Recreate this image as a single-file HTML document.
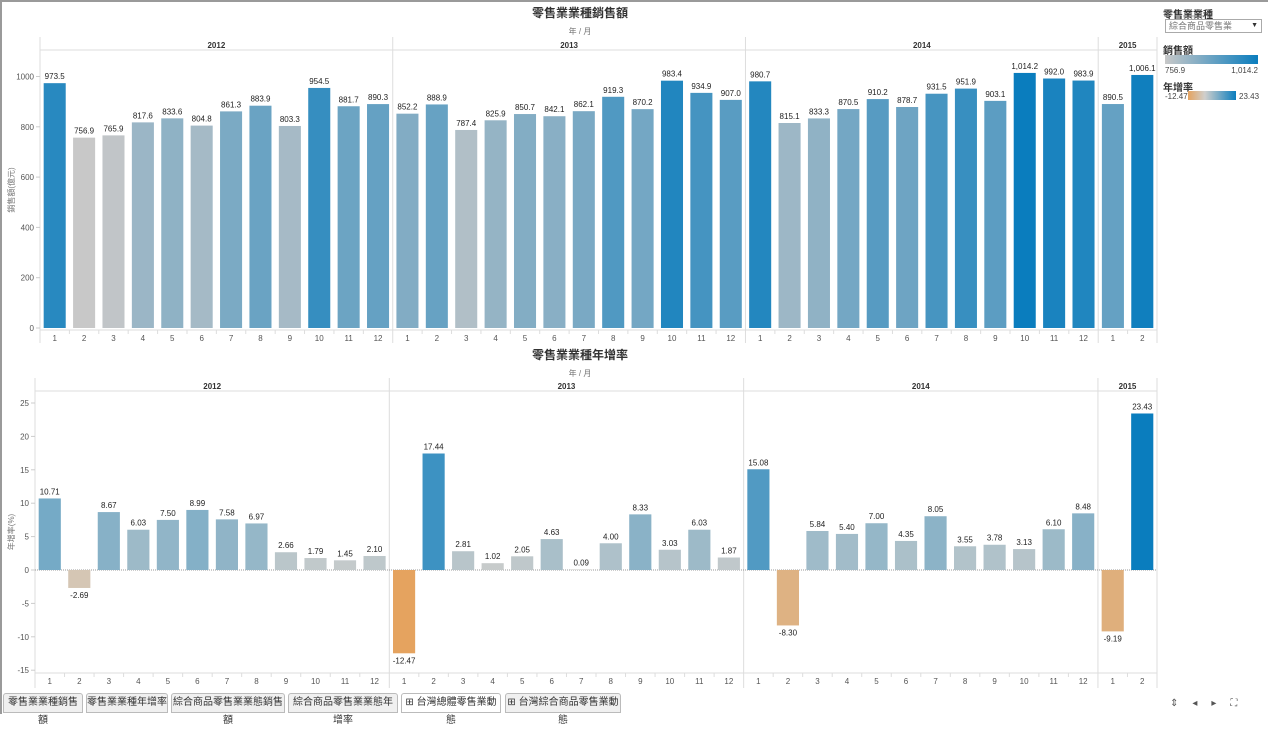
<!DOCTYPE html>
<html><head><meta charset="utf-8">
<style>
body{margin:0;width:1268px;height:714px;overflow:hidden;background:#fff;font-family:"Liberation Sans","Noto Sans CJK TC",sans-serif;}
#frame{position:absolute;left:0;top:0;width:1266px;height:712px;border-left:2px solid #9a9a9a;border-top:2px solid #9a9a9a;}
.tab{position:absolute;top:693px;height:18px;border:1px solid #bbb;border-radius:3px 3px 0 0;background:#f0f0f0;font-size:10px;color:#333;line-height:18px;text-align:center;}
</style></head><body>
<div id="frame"></div>
<svg id="chart" width="1268" height="714" style="position:absolute;left:0;top:0"></svg>
<div class="tab" style="left:3px;width:78px">零售業業種銷售額</div>
<div class="tab" style="left:86px;width:80px">零售業業種年增率</div>
<div class="tab" style="left:171px;width:112px">綜合商品零售業業態銷售額</div>
<div class="tab" style="left:288px;width:108px">綜合商品零售業業態年增率</div>
<div class="tab" style="left:401px;width:98px;background:#fff">⊞ 台灣總體零售業動態</div>
<div class="tab" style="left:505px;width:114px">⊞ 台灣綜合商品零售業動態</div>
<div style="position:absolute;left:1170px;top:698px;font-size:10px;color:#555;letter-spacing:14px">⇕◂▸⛶</div>
<div style="position:absolute;left:1163px;top:6px;font-size:10px;color:#333;font-weight:bold">零售業業種</div>
<div style="position:absolute;left:1165px;top:19px;width:92px;height:12px;border:1px solid #aaa;font-size:9px;color:#777;line-height:12px;padding-left:3px">綜合商品零售業<span style="position:absolute;right:3px;color:#333;font-size:7px">▼</span></div>
<div style="position:absolute;left:1163px;top:42px;font-size:10px;color:#333;font-weight:bold">銷售額</div>
<div style="position:absolute;left:1165px;top:55px;width:93px;height:9px;background:linear-gradient(90deg,#c8c8c8,#0a7dbe)"></div>
<div style="position:absolute;left:1165px;top:66px;width:93px;font-size:8px;color:#444">756.9<span style="float:right">1,014.2</span></div>
<div style="position:absolute;left:1163px;top:79px;font-size:10px;color:#333;font-weight:bold">年增率</div>
<div style="position:absolute;left:1165px;top:92px;font-size:8px;color:#444">-12.47</div>
<div style="position:absolute;left:1188px;top:91px;width:48px;height:9px;background:linear-gradient(90deg,#e5a35f,#d0cfcc 35%,#0a7dbe)"></div>
<div style="position:absolute;left:1239px;top:92px;font-size:8px;color:#444">23.43</div>
<script>
const years=["2012","2013","2014","2015"];
const monthsPerYear=[12,12,12,2];
const sales=[973.5,756.9,765.9,817.6,833.6,804.8,861.3,883.9,803.3,954.5,881.7,890.3,852.2,888.9,787.4,825.9,850.7,842.1,862.1,919.3,870.2,983.4,934.9,907.0,980.7,815.1,833.3,870.5,910.2,878.7,931.5,951.9,903.1,1014.2,992.0,983.9,890.5,1006.1];
const growth=[10.71,-2.69,8.67,6.03,7.50,8.99,7.58,6.97,2.66,1.79,1.45,2.10,-12.47,17.44,2.81,1.02,2.05,4.63,0.09,4.00,8.33,3.03,6.03,1.87,15.08,-8.30,5.84,5.40,7.00,4.35,8.05,3.55,3.78,3.13,6.10,8.48,-9.19,23.43];
const salesTicks=[0,200,400,600,800,1000];
const growthTicks=[-15,-10,-5,0,5,10,15,20,25];

const svg=document.getElementById('chart');
const NS='http://www.w3.org/2000/svg';
function mk(tag,attrs,txt){const e=document.createElementNS(NS,tag);for(const k in attrs)e.setAttribute(k,attrs[k]);if(txt!==undefined)e.textContent=txt;svg.appendChild(e);return e;}
function lerp(a,b,t){return a.map((v,i)=>Math.round(v+(b[i]-v)*t));}
function rgb(c){return 'rgb('+c.join(',')+')';}
const grey=[200,200,200],blue=[10,125,190],orange=[229,163,95],mid=[208,207,204];
function salesColor(v){const mn=Math.min(...sales),mx=Math.max(...sales);return rgb(lerp(grey,blue,(v-mn)/(mx-mn)));}
function growthColor(v){const mn=Math.min(...growth),mx=Math.max(...growth);return v>=0?rgb(lerp(mid,blue,v/mx)):rgb(lerp(mid,orange,v/mn));}
function fmt(v,d){return v.toFixed(d).replace(/\B(?=(\d{3})+(?!\d))/g,',');}

function drawChart(o){
  const n=o.values.length, slot=(o.right-o.left)/n;
  const ys=v=>o.zeroY-(v-0)*o.scale;
  const t=mk('text',{x:580,y:o.titleY,'text-anchor':'middle','font-size':12,'font-weight':'bold',fill:'#333'},o.title);
  
  const s=mk('text',{x:580,y:o.titleY+17,'text-anchor':'middle','font-size':8,fill:'#777'},'年 / 月');
  
  const yt=mk('text',{x:0,y:0,'text-anchor':'middle','font-size':8,fill:'#777',transform:'translate(14,'+((o.headerB+o.axisTop)/2)+') rotate(-90)'},o.yTitle);
  
  mk('line',{x1:o.left,x2:o.left,y1:o.headerT,y2:o.axisBottom,stroke:'#ddd'});
  mk('line',{x1:o.left,x2:o.right,y1:o.headerB,y2:o.headerB,stroke:'#ddd'});
  mk('line',{x1:o.left,x2:o.right,y1:o.axisTop,y2:o.axisTop,stroke:'#ddd'});
  let idx=0;
  years.forEach((yr,yi)=>{
    const x0=o.left+idx*slot, x1=x0+monthsPerYear[yi]*slot;
    const h=mk('text',{x:(x0+x1)/2,y:o.headerT+11,'text-anchor':'middle','font-size':8,'font-weight':'bold',fill:'#333'},yr);
    
    mk('line',{x1:x1,x2:x1,y1:o.headerT,y2:o.axisBottom,stroke:'#ddd'});
    for(let m=0;m<monthsPerYear[yi];m++){
      const cx=o.left+(idx+m+0.5)*slot;
      const ml=mk('text',{x:cx,y:o.axisTop+11,'text-anchor':'middle','font-size':8,fill:'#555'},String(m+1));
      
      if(m>0)mk('line',{x1:o.left+(idx+m)*slot,x2:o.left+(idx+m)*slot,y1:o.axisTop,y2:o.axisTop+4,stroke:'#ddd'});
    }
    idx+=monthsPerYear[yi];
  });
  o.ticks.forEach(tv=>{
    const tl=mk('text',{x:o.left-6,y:ys(tv)+3,'text-anchor':'end','font-size':8,fill:'#555'},String(tv));
    
    mk('line',{x1:o.left-4,x2:o.left,y1:ys(tv),y2:ys(tv),stroke:'#ccc'});
  });
  if(o.zeroLine)mk('line',{x1:o.left,x2:o.right,y1:ys(0),y2:ys(0),stroke:'#999','stroke-dasharray':'1,1'});
  o.values.forEach((v,i)=>{
    const cx=o.left+(i+0.5)*slot, bw=slot*0.75;
    const y0=ys(0), y1=ys(v);
    const b=mk('rect',{x:cx-bw/2,y:Math.min(y0,y1),width:bw,height:Math.abs(y0-y1),fill:o.color(v)});
    
    const ly=v>=0?y1-4:y1+10;
    const l=mk('text',{x:cx,y:ly,'text-anchor':'middle','font-size':8,fill:'#222'},fmt(v,o.dec));
    
  });
}
drawChart({id:'sales',values:sales,ticks:salesTicks,left:40,right:1157,zeroY:328,scale:0.2515,headerT:37,headerB:50,axisTop:330,axisBottom:343,titleY:17,title:'零售業業種銷售額',yTitle:'銷售額(億元)',color:salesColor,dec:1,zeroLine:false});
drawChart({id:'growth',values:growth,ticks:growthTicks,left:35,right:1157,zeroY:570,scale:6.68,headerT:378,headerB:391,axisTop:673,axisBottom:688,titleY:359,title:'零售業業種年增率',yTitle:'年增率(%)',color:growthColor,dec:2,zeroLine:true});
</script>
</body></html>
